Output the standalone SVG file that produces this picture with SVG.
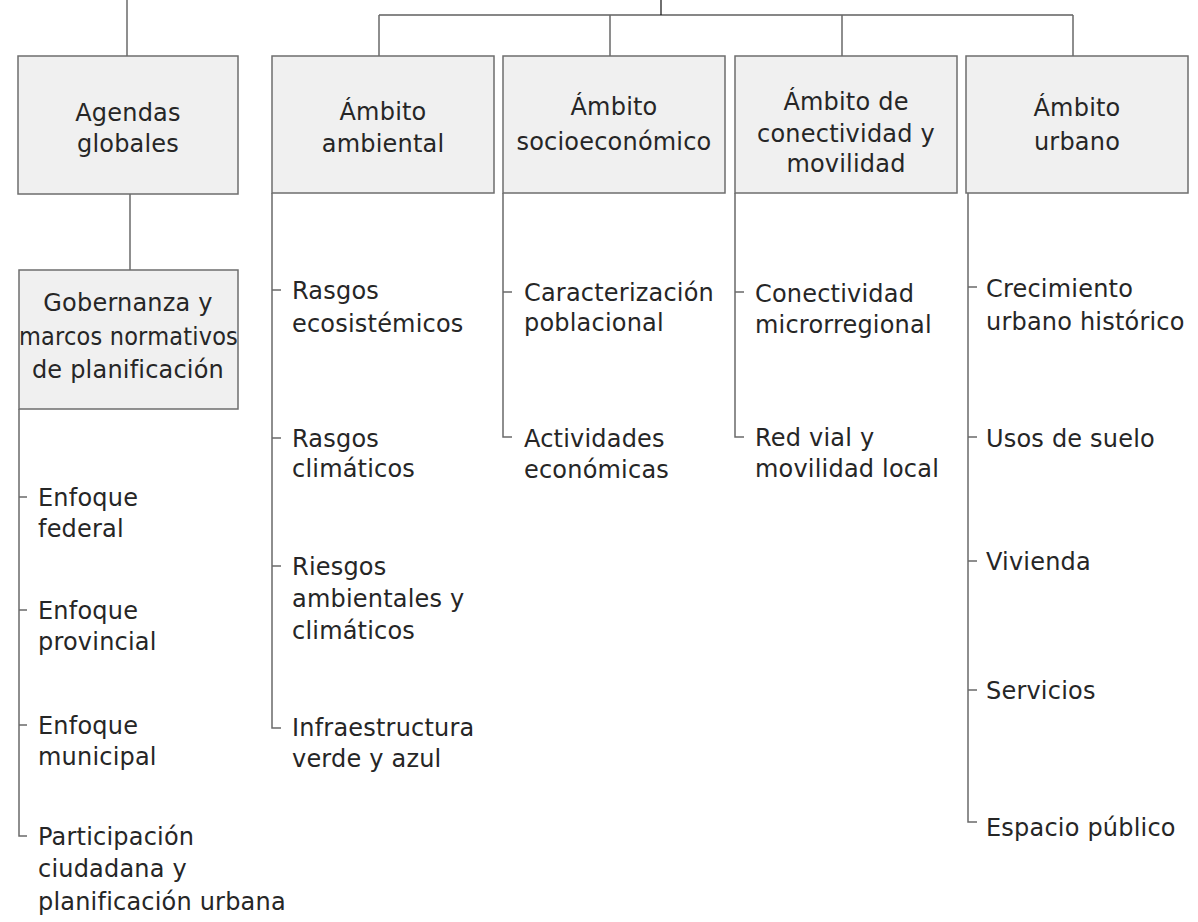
<svg xmlns="http://www.w3.org/2000/svg" width="1198" height="922" viewBox="0 0 1198 922">
<style>
.box{fill:#f0f0f0;stroke:#6e6e6e;stroke-width:1.5}
.t{font-family:"DejaVu Sans","Liberation Sans",sans-serif;font-size:24px;letter-spacing:0.2px;fill:#262626}
.c{text-anchor:middle}
.ln{fill:none;stroke:#6a6a6a;stroke-width:1.5}
.top{fill:none;stroke:#111;stroke-width:1.2}
</style>
<rect width="1198" height="922" fill="#fff"/>
<g id="connectors">
<path class="ln" d="M127,0V56"/>
<path class="top" d="M379,15H1073M661,0V15"/>
<path class="ln" d="M379,15V56M610,15V56M842,15V56M1073,15V56"/>
<path class="ln" d="M130,194V270"/>
<path class="ln" d="M19,409V836H27M19,497H27M19,610H27M19,725H27"/>
<path class="ln" d="M272,193V728H281M272,290H281M272,438H281M272,566H281"/>
<path class="ln" d="M503,193V437H512M503,292H512"/>
<path class="ln" d="M735,193V437H744M735,292H744"/>
<path class="ln" d="M968,193V822H977M968,287H977M968,437H977M968,561H977M968,690H977"/>
</g>
<g id="agendas">
<rect class="box" x="18" y="56" width="220" height="138"/>
<text class="t c" x="128" y="121">Agendas</text>
<text class="t c" x="128" y="152">globales</text>
</g>
<g id="gobernanza">
<rect class="box" x="19" y="270" width="219" height="139"/>
<text class="t c" x="128" y="311">Gobernanza y</text>
<text class="t" x="19" y="345" textLength="219" lengthAdjust="spacingAndGlyphs">marcos normativos</text>
<text class="t c" x="128" y="378">de planificación</text>
</g>
<g id="ambiental">
<rect class="box" x="272" y="56" width="222" height="137"/>
<text class="t c" x="383" y="120">Ámbito</text>
<text class="t c" x="383" y="152">ambiental</text>
</g>
<g id="socio">
<rect class="box" x="503" y="56" width="222" height="137"/>
<text class="t c" x="614" y="115">Ámbito</text>
<text class="t c" x="614" y="150">socioeconómico</text>
</g>
<g id="conectividad">
<rect class="box" x="735" y="56" width="222" height="137"/>
<text class="t c" x="846" y="110">Ámbito de</text>
<text class="t c" x="846" y="142">conectividad y</text>
<text class="t c" x="846" y="172">movilidad</text>
</g>
<g id="urbano">
<rect class="box" x="966" y="56" width="222" height="137"/>
<text class="t c" x="1077" y="116">Ámbito</text>
<text class="t c" x="1077" y="150">urbano</text>
</g>
<g id="gob-items">
<text class="t" x="38" y="506">Enfoque</text>
<text class="t" x="38" y="537">federal</text>
<text class="t" x="38" y="619">Enfoque</text>
<text class="t" x="38" y="650">provincial</text>
<text class="t" x="38" y="734">Enfoque</text>
<text class="t" x="38" y="765">municipal</text>
<text class="t" x="38" y="845">Participación</text>
<text class="t" x="38" y="877">ciudadana y</text>
<text class="t" x="38" y="910">planificación urbana</text>
</g>
<g id="amb-items">
<text class="t" x="292" y="299">Rasgos</text>
<text class="t" x="292" y="332">ecosistémicos</text>
<text class="t" x="292" y="447">Rasgos</text>
<text class="t" x="292" y="477">climáticos</text>
<text class="t" x="292" y="575">Riesgos</text>
<text class="t" x="292" y="607">ambientales y</text>
<text class="t" x="292" y="639">climáticos</text>
<text class="t" x="292" y="736">Infraestructura</text>
<text class="t" x="292" y="767">verde y azul</text>
</g>
<g id="socio-items">
<text class="t" x="524" y="301">Caracterización</text>
<text class="t" x="524" y="331">poblacional</text>
<text class="t" x="524" y="447">Actividades</text>
<text class="t" x="524" y="478">económicas</text>
</g>
<g id="con-items">
<text class="t" x="755" y="302">Conectividad</text>
<text class="t" x="755" y="333">microrregional</text>
<text class="t" x="755" y="446">Red vial y</text>
<text class="t" x="755" y="477">movilidad local</text>
</g>
<g id="urb-items">
<text class="t" x="986" y="297">Crecimiento</text>
<text class="t" x="986" y="330">urbano histórico</text>
<text class="t" x="986" y="447">Usos de suelo</text>
<text class="t" x="986" y="570">Vivienda</text>
<text class="t" x="986" y="699">Servicios</text>
<text class="t" x="986" y="836">Espacio público</text>
</g>
</svg>
